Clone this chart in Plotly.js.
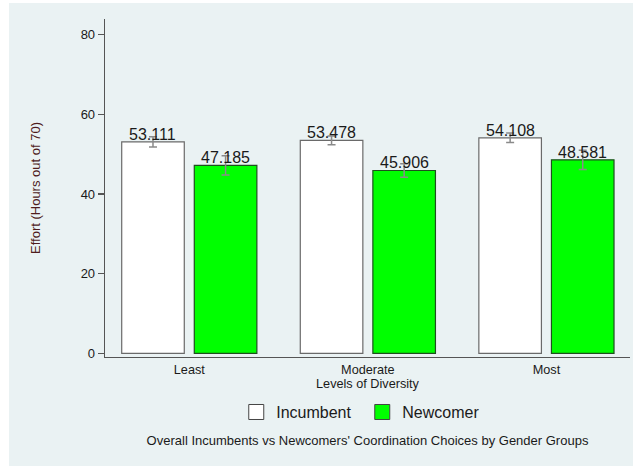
<!DOCTYPE html>
<html>
<head>
<meta charset="utf-8">
<script src="https://cdn.plot.ly/plotly-3.0.1.min.js"></script>
<style>
  html, body { margin: 0; padding: 0; background: #ffffff; }
  #chart { position: absolute; left: 9px; top: 3px; width: 624px; height: 463px; }
</style>
</head>
<body>
<div id="chart"></div>
<script>
// ---- data ----
const categories = ["Least", "Moderate", "Most"];
const incumbentValues = [53.111, 53.478, 54.108];
const newcomerValues = [47.185, 45.906, 48.581];
const incumbentErrors = [1.3, 1.1, 1.2];
const newcomerErrors = [2.4, 1.7, 2.4];
const seriesNames = ["Incumbent", "Newcomer"];
const yTickValues = [0, 20, 40, 60, 80];

const FONT = "Liberation Sans, Arial, sans-serif";
const TXT = "#1a1a1a";
const ERR = "#8a8a8a";

const BARGAP = 0.187, BARGROUPGAP = 0.138;
const slot = (1 - BARGAP) / 2;           // width of each series slot in category units
const offsets = [-slot / 2, slot / 2];   // centre of each series within its category

const traces = [
  {
    type: "bar", x: categories, y: incumbentValues, name: seriesNames[0], showlegend: false,
    marker: { color: "#ffffff", line: { color: "#6a6a6a", width: 1.2 } },
    error_y: { type: "data", array: incumbentErrors, color: ERR, thickness: 1.5, width: 4 },
    hoverinfo: "skip"
  },
  {
    type: "bar", x: categories, y: newcomerValues, name: seriesNames[1], showlegend: false,
    marker: { color: "#00ff00", line: { color: "#1e4f1e", width: 1.2 } },
    error_y: { type: "data", array: newcomerErrors, color: ERR, thickness: 1.5, width: 4 },
    hoverinfo: "skip"
  },
  {
    type: "scatter", mode: "markers", x: [null], y: [null], name: seriesNames[0],
    marker: { symbol: "square", size: 15, color: "#ffffff", line: { color: "#444444", width: 1 } }
  },
  {
    type: "scatter", mode: "markers", x: [null], y: [null], name: seriesNames[1],
    marker: { symbol: "square", size: 15, color: "#00ff00", line: { color: "#444444", width: 1 } }
  }
];

// value labels above each bar
const valueLabels = [];
[incumbentValues, newcomerValues].forEach((vals, s) => {
  vals.forEach((v, i) => {
    valueLabels.push({
      text: v.toFixed(3), xref: "x", yref: "y", x: i + offsets[s], y: v,
      xanchor: "center", yanchor: "bottom", showarrow: false, yshift: -3,
      font: { family: FONT, size: 16, color: TXT }
    });
  });
});

const layout = {
  width: 624, height: 463,
  paper_bgcolor: "#eaf2f3", plot_bgcolor: "#eaf2f3",
  margin: { l: 96, r: 3, t: 16, b: 109 },
  font: { family: FONT, color: TXT },
  barmode: "group", bargap: BARGAP, bargroupgap: BARGROUPGAP,
  showlegend: true,
  legend: {
    orientation: "h", x: 0.49, xanchor: "center", y: -0.163, yanchor: "middle",
    entrywidth: 81, entrywidthmode: "pixels",
    font: { family: FONT, size: 16, color: TXT }, bgcolor: "rgba(0,0,0,0)"
  },
  title: {
    text: "Overall Incumbents vs Newcomers' Coordination Choices by Gender Groups",
    font: { family: FONT, size: 13, color: TXT },
    xref: "paper", x: 0.5, xanchor: "center",
    yref: "container", y: 1 - 437.5 / 463, yanchor: "middle"
  },
  xaxis: {
    type: "category", range: [-0.472, 2.468],
    showline: true, linecolor: "#555555", linewidth: 1.3,
    ticks: "", showgrid: false, zeroline: false,
    tickfont: { family: FONT, size: 12.7, color: TXT },
    title: { text: "Levels of Diversity", font: { family: FONT, size: 12.7, color: TXT }, standoff: 0 }
  },
  yaxis: {
    range: [-0.93, 83.95], tickvals: yTickValues,
    showline: true, linecolor: "#555555", linewidth: 1.3,
    ticks: "outside", ticklen: 6, tickcolor: "#555555", tickwidth: 1.2,
    showgrid: false, zeroline: false,
    tickfont: { family: FONT, size: 13, color: TXT }
  },
  annotations: valueLabels.concat([{
    text: "Effort (Hours out of 70)", textangle: -90,
    xref: "paper", yref: "paper", x: (35 - 105) / 525, y: 0.5,
    xanchor: "center", yanchor: "middle", showarrow: false,
    font: { family: FONT, size: 13, color: "#4f1c1c" }
  }])
};

Plotly.newPlot("chart", traces, layout, { displayModeBar: false, staticPlot: true });
</script>
</body>
</html>
